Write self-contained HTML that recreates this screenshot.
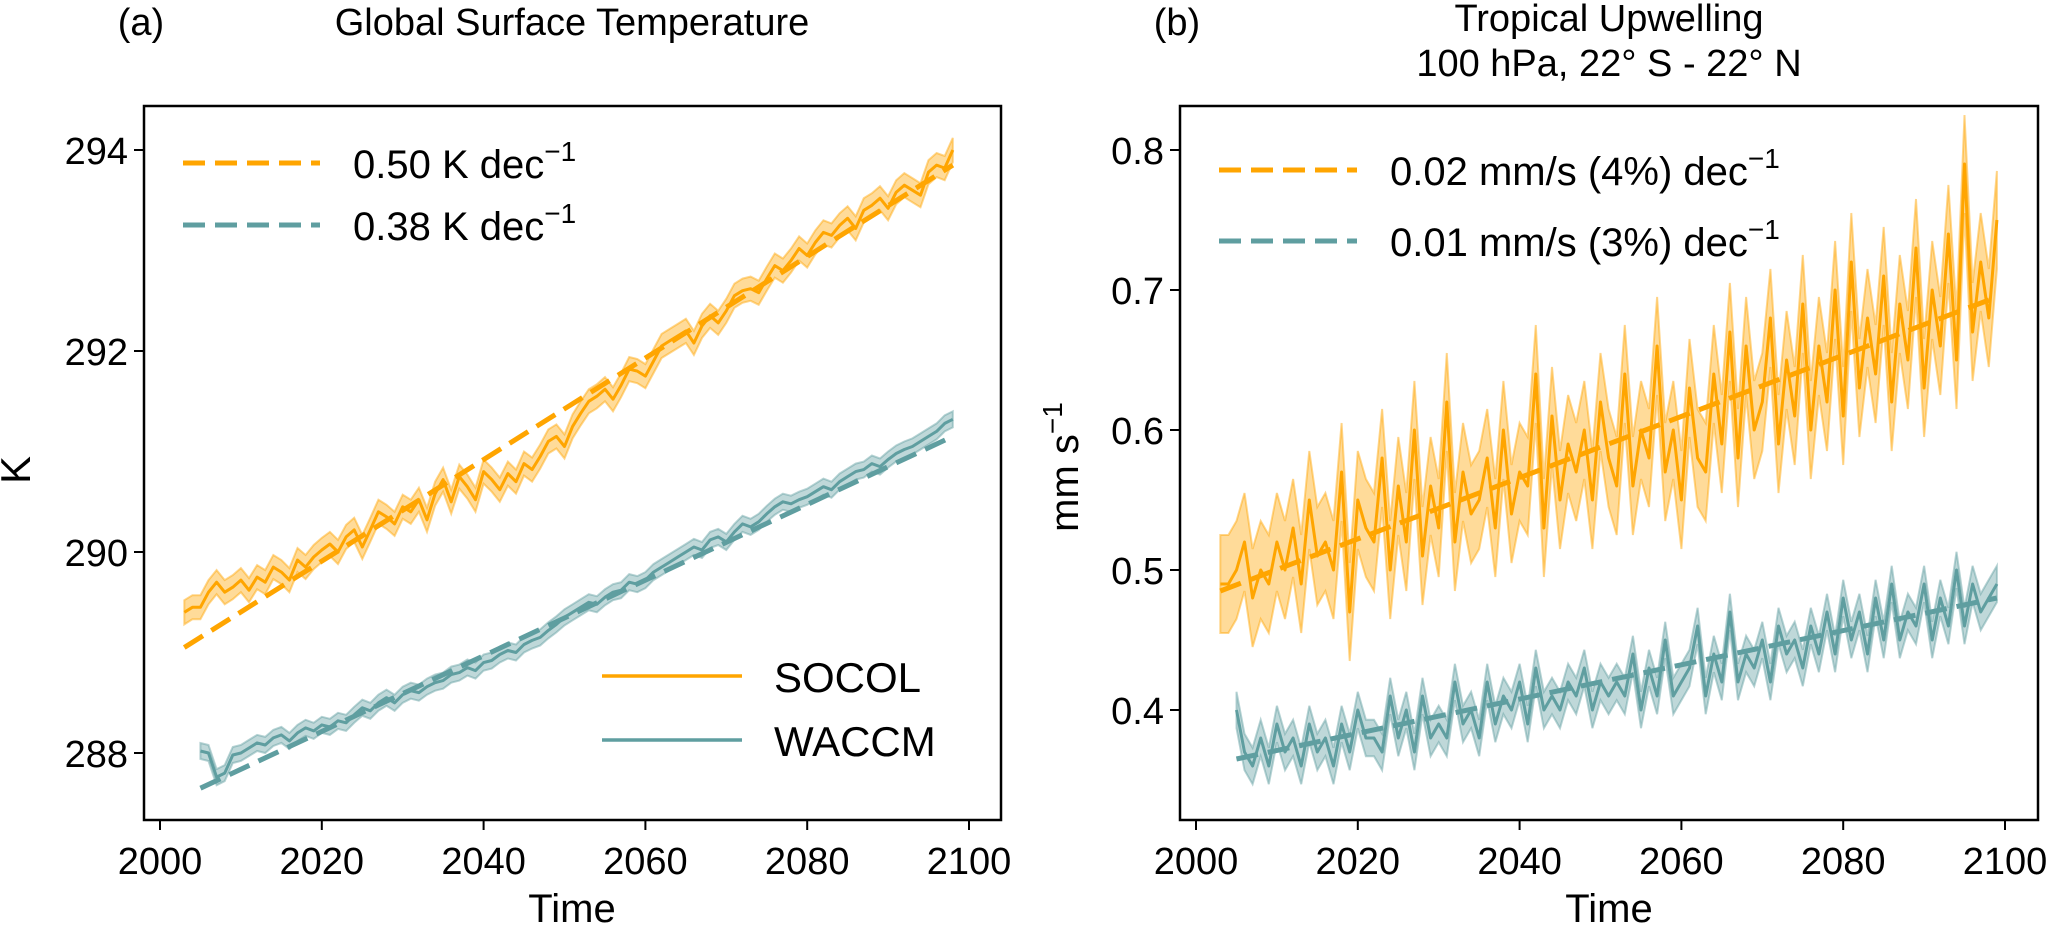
<!DOCTYPE html>
<html><head><meta charset="utf-8"><style>
html,body{margin:0;padding:0;background:#fff}
svg{display:block;font-family:"Liberation Sans",sans-serif}
</style></head><body>
<svg id="fig" width="2051" height="927" viewBox="0 0 2051 927" xmlns="http://www.w3.org/2000/svg">
<rect width="2051" height="927" fill="#fff"/>
<text x="141" y="35" font-size="38" text-anchor="middle">(a)</text>
<text x="572" y="35" font-size="38" text-anchor="middle">Global Surface Temperature</text>
<text x="1177" y="35" font-size="38" text-anchor="middle">(b)</text>
<text x="1609" y="31" font-size="38" text-anchor="middle">Tropical Upwelling</text>
<text x="1609" y="76" font-size="38" text-anchor="middle">100 hPa, 22° S - 22° N</text>
<text transform="translate(30,470) rotate(-90)" font-size="42" text-anchor="middle">K</text>
<text transform="translate(1078,467) rotate(-90)" font-size="40" text-anchor="middle">mm s<tspan dy="-16" font-size="28">−1</tspan></text>
<text x="572" y="922" font-size="40" text-anchor="middle">Time</text>
<text x="1609" y="922" font-size="40" text-anchor="middle">Time</text>
<g id="pa"></g><g id="pb"></g>
</svg>
<script>
const socolTempStart = 2003;
const socolTemp = [289.40,289.45,289.45,289.60,289.70,289.60,289.65,289.72,289.62,289.75,
289.70,289.85,289.80,289.72,289.92,289.85,289.95,290.02,290.08,290.00,
290.15,290.22,290.05,290.22,290.40,290.35,290.28,290.45,290.40,290.52,
290.32,290.58,290.72,290.50,290.75,290.65,290.52,290.80,290.72,290.62,
290.78,290.70,290.88,290.82,290.95,291.10,291.15,291.05,291.25,291.38,
291.50,291.55,291.62,291.52,291.66,291.82,291.80,291.75,291.90,292.05,
292.10,292.15,292.20,292.08,292.25,292.35,292.28,292.40,292.55,292.60,
292.62,292.58,292.72,292.85,292.80,292.90,293.02,292.95,293.08,293.18,
293.15,293.25,293.32,293.22,293.40,293.45,293.52,293.42,293.58,293.65,
293.60,293.55,293.78,293.85,293.82,294.00];
const waccmTempStart = 2005;
const waccmTemp = [288.02,288.00,287.76,287.80,287.98,288.00,288.05,288.10,288.08,288.15,
288.18,288.12,288.20,288.25,288.22,288.28,288.26,288.32,288.30,288.38,
288.45,288.42,288.50,288.55,288.50,288.58,288.62,288.60,288.66,288.70,
288.72,288.78,288.80,288.85,288.82,288.90,288.92,288.98,289.02,289.00,
289.08,289.12,289.15,289.22,289.28,289.35,289.40,289.45,289.50,289.48,
289.55,289.60,289.62,289.70,289.68,289.72,289.80,289.85,289.90,289.95,
290.00,290.05,290.02,290.12,290.15,290.10,290.20,290.28,290.25,290.30,
290.38,290.45,290.50,290.48,290.52,290.55,290.60,290.65,290.62,290.70,
290.75,290.80,290.82,290.88,290.85,290.92,290.98,291.02,291.05,291.10,
291.15,291.20,291.28,291.32];
const socolTempSpread = 0.12, waccmTempSpread = 0.08;
const socolTempTrend = [2003, 289.05, 2098, 293.85];
const waccmTempTrend = [2005, 287.65, 2098, 291.15];

const socolUpStart = 2003;
const socolUp = [.49,.49,.50,.52,.48,.50,.49,.52,.50,.53,.49,.55,.51,.52,.50,.57,.47,.55,.53,.52,
.58,.50,.56,.52,.60,.51,.56,.53,.62,.52,
.57,.54,.55,.58,.53,.60,.54,.57,.56,.64,
.53,.61,.55,.59,.57,.60,.55,.62,.58,.56,
.64,.56,.60,.58,.66,.57,.60,.55,.63,.58,
.57,.64,.59,.67,.58,.66,.60,.62,.68,.59,
.65,.61,.69,.60,.66,.62,.70,.61,.72,.63,
.68,.64,.71,.62,.69,.65,.73,.63,.70,.66,
.74,.65,.79,.67,.72,.68,.75];
const waccmUpStart = 2005;
const waccmUp = [.40,.37,.36,.38,.36,.39,.37,.38,.36,.39,
.37,.38,.36,.39,.37,.40,.38,.38,.37,.41,
.38,.40,.37,.41,.38,.39,.38,.42,.39,.40,
.38,.42,.39,.41,.40,.42,.39,.43,.40,.41,
.40,.42,.41,.43,.40,.42,.41,.42,.41,.44,
.40,.43,.41,.45,.41,.42,.43,.46,.41,.44,
.42,.47,.42,.44,.43,.45,.42,.46,.44,.45,
.43,.46,.44,.47,.44,.48,.45,.47,.44,.48,
.45,.49,.45,.47,.46,.49,.45,.48,.46,.50,
.46,.49,.47,.48,.49];
const socolUpSpread = 0.035, waccmUpSpread = 0.013;
const socolUpTrend = [2003, 0.485, 2099, 0.695];
const waccmUpTrend = [2005, 0.365, 2099, 0.48];

const xTicks = [2000,2020,2040,2060,2080,2100];
const yTicksA = [288,290,292,294];
const yTicksB = [0.4,0.5,0.6,0.7,0.8];
const legendA = ["0.50 K dec", "0.38 K dec"];
const legendB = ["0.02 mm/s (4%) dec", "0.01 mm/s (3%) dec"];
const seriesNames = ["SOCOL","WACCM"];

const NS = "http://www.w3.org/2000/svg";
const ORANGE = "#FFA500", TEAL = "#5F9EA0";
function mk(parent, tag, attrs){const e=document.createElementNS(NS,tag);for(const k in attrs)e.setAttribute(k,attrs[k]);parent.appendChild(e);return e;}

function panel(g, box, xs, ys, yTicks, yFmt, series, trends, legend, legendPos, pid){
  // bands and lines
  series.forEach((s,si)=>{
    const pts = s.vals.map((v,i)=>[xs(s.start+i), v]);
    let d = pts.map((p,i)=>(i?'L':'M')+p[0].toFixed(1)+','+ys(p[1]+s.spread).toFixed(1)).join('');
    d += pts.slice().reverse().map(p=>'L'+p[0].toFixed(1)+','+ys(p[1]-s.spread).toFixed(1)).join('')+'Z';
    const band = mk(g,'path',{d:d,fill:s.color,'fill-opacity':0.4,stroke:s.color,'stroke-opacity':0.45,'stroke-width':2});
    
    
    const ld = pts.map((p,i)=>(i?'L':'M')+p[0].toFixed(1)+','+ys(p[1]).toFixed(1)).join('');
    const line = mk(g,'path',{d:ld,fill:'none',stroke:s.color,'stroke-width':3,'stroke-linejoin':'round'});
    
    
  });
  trends.forEach((t,ti)=>{
    const tl = mk(g,'line',{x1:xs(t.v[0]),y1:ys(t.v[1]),x2:xs(t.v[2]),y2:ys(t.v[3]),stroke:t.color,'stroke-width':5,'stroke-dasharray':'22 10'});
    
    
  });
  const frame = mk(g,'rect',{x:box.l,y:box.t,width:box.r-box.l,height:box.b-box.t,fill:'none',stroke:'#000','stroke-width':2.5});
  
  
  xTicks.forEach(v=>{
    const x = xs(v);
    const tk = mk(g,'line',{x1:x,y1:box.b,x2:x,y2:box.b+10,stroke:'#000','stroke-width':2});
    
    
    const t = mk(g,'text',{x:x,y:874,'font-size':38,'text-anchor':'middle'});
    t.textContent = v;
    
    
  });
  yTicks.forEach(v=>{
    const y = ys(v);
    const tk = mk(g,'line',{x1:box.l-10,y1:y,x2:box.l,y2:y,stroke:'#000','stroke-width':2});
    
    
    const t = mk(g,'text',{x:box.l-16,y:y+14,'font-size':38,'text-anchor':'end'});
    t.textContent = yFmt(v);
    
    
  });
  legend.forEach((txt,i)=>{
    const y = legendPos.ys[i];
    const c = i===0?ORANGE:TEAL;
    const l = mk(g,'line',{x1:legendPos.x0,y1:y,x2:legendPos.x1,y2:y,stroke:c,'stroke-width':5,'stroke-dasharray':'22 10'});
    
    
    const t = mk(g,'text',{x:legendPos.tx,y:y+15,'font-size':40});
    t.textContent = txt;
    const sup = mk(t,'tspan',{dy:-17,'font-size':28});
    sup.textContent = '−1';
    
    
  });
}

const xsA = yr=>160+(yr-2000)*8.09, ysA = v=>150+(294-v)*100.5;
panel(document.getElementById('pa'),{l:144,r:1001,t:106,b:820},xsA,ysA,yTicksA,v=>String(v),
 [{name:seriesNames[0],start:socolTempStart,vals:socolTemp,spread:socolTempSpread,color:ORANGE},
  {name:seriesNames[1],start:waccmTempStart,vals:waccmTemp,spread:waccmTempSpread,color:TEAL}],
 [{name:'socol',v:socolTempTrend,color:ORANGE},{name:'waccm',v:waccmTempTrend,color:TEAL}],
 legendA,{x0:183,x1:320,tx:353,ys:[163,225]},'panel-a');

const xsB = yr=>1196+(yr-2000)*8.09, ysB = v=>150+(0.8-v)*1400;
panel(document.getElementById('pb'),{l:1180,r:2038,t:106,b:820},xsB,ysB,yTicksB,v=>v.toFixed(1),
 [{name:seriesNames[0],start:socolUpStart,vals:socolUp,spread:socolUpSpread,color:ORANGE},
  {name:seriesNames[1],start:waccmUpStart,vals:waccmUp,spread:waccmUpSpread,color:TEAL}],
 [{name:'socol',v:socolUpTrend,color:ORANGE},{name:'waccm',v:waccmUpTrend,color:TEAL}],
 legendB,{x0:1219,x1:1357,tx:1390,ys:[170,241]},'panel-b');

// model legend in panel a
const ga = document.getElementById('pa');
seriesNames.forEach((n,i)=>{
  const y = [676,740][i];
  const c = i===0?ORANGE:TEAL;
  const l = mk(ga,'line',{x1:602,y1:y,x2:742,y2:y,stroke:c,'stroke-width':3.5});
  
  
  const t = mk(ga,'text',{x:774,y:y+16,'font-size':42});
  t.textContent = n;
  
  
});
</script>
</body></html>
